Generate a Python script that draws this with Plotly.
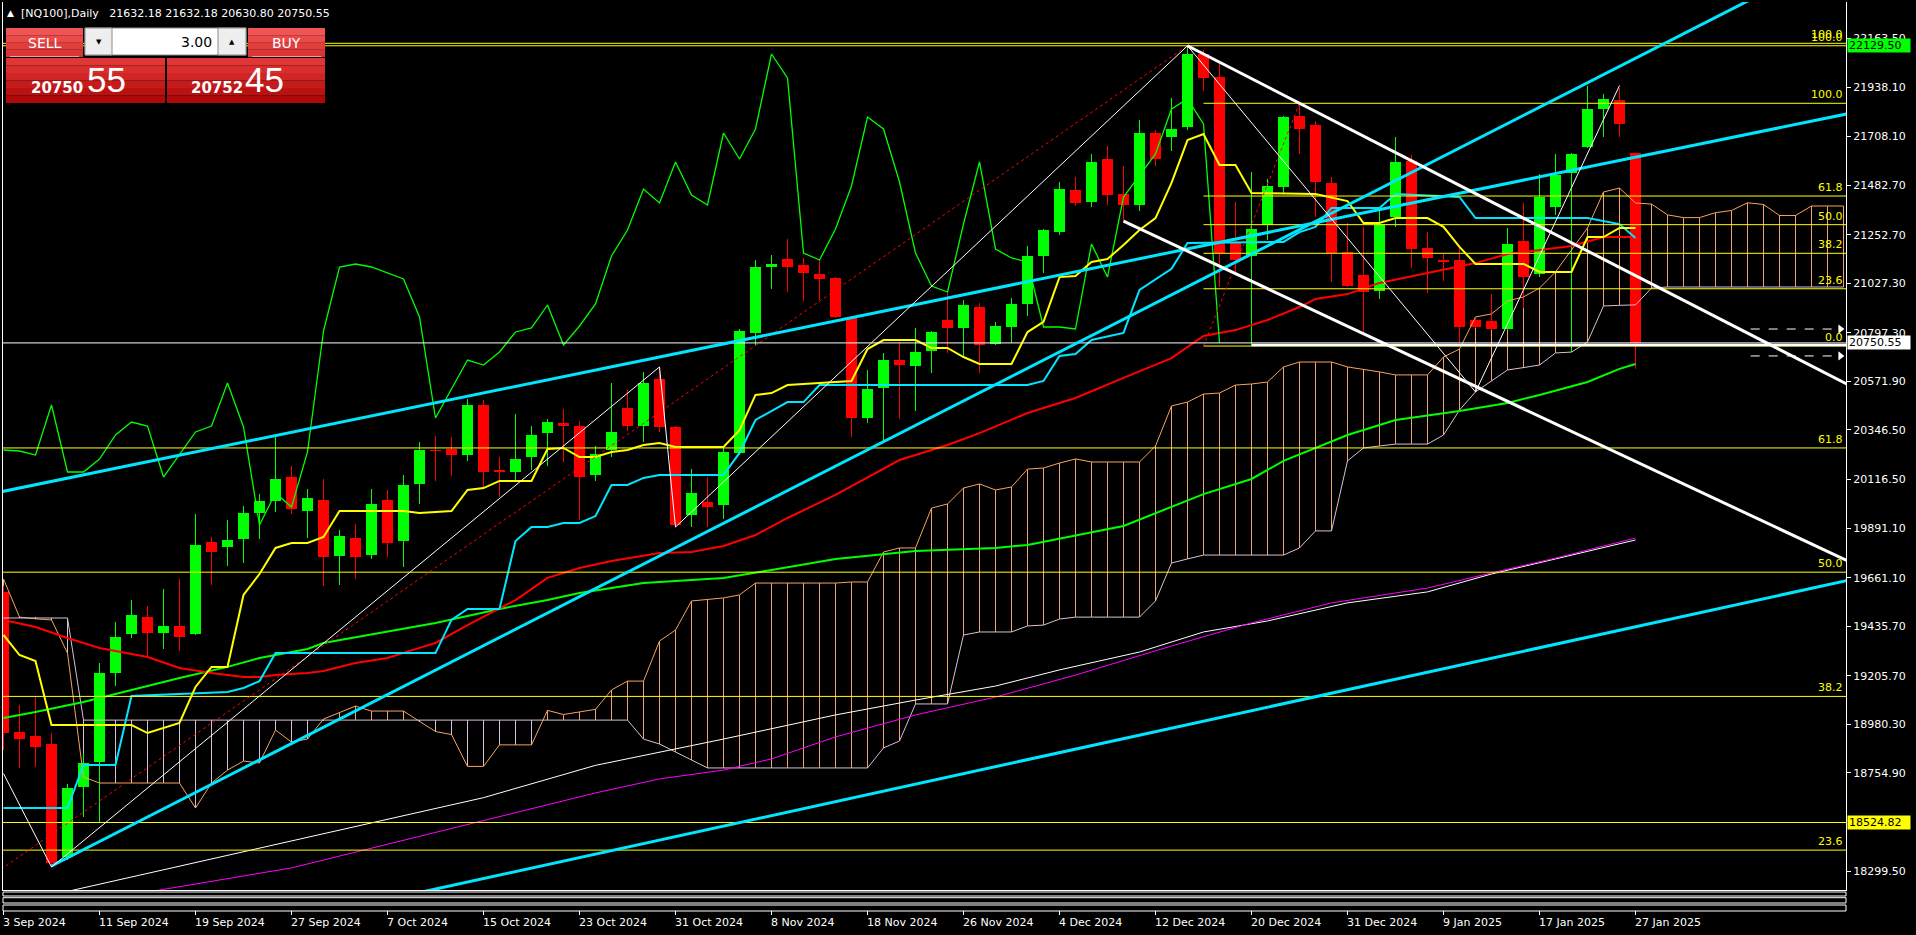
import plotly.graph_objects as go

# ======================= DATA =======================
tick_labels = ["3 Sep 2024", "11 Sep 2024", "19 Sep 2024", "27 Sep 2024", "7 Oct 2024",
               "15 Oct 2024", "23 Oct 2024", "31 Oct 2024", "8 Nov 2024", "18 Nov 2024",
               "26 Nov 2024", "4 Dec 2024", "12 Dec 2024", "20 Dec 2024", "31 Dec 2024",
               "9 Jan 2025", "17 Jan 2025", "27 Jan 2025"]
tick_bars = [0, 6, 12, 18, 24, 30, 36, 42, 48, 54, 60, 66, 72, 78, 84, 90, 96, 102]

open_ = [19594.5, 18944.8, 18926.2, 18889.1, 18364.7, 18689.5, 18805.6, 19218.6, 19399.6, 19478.5,
         19404.2, 19436.7, 19399.6, 19826.6, 19803.4, 19840.5, 19961.2, 20016.9, 20128.2, 19970.4,
         20021.5, 19761.6, 19845.1, 19766.2, 20021.5, 19831.2, 20095.8, 20253.5, 20258.2, 20230.3,
         20462.4, 20160.7, 20151.4, 20221.1, 20332.5, 20378.9, 20364.9, 20137.5, 20253.5, 20448.5,
         20364.9, 20583.1, 20360.3, 19951.9, 20012.2, 19998.3, 20239.6, 20796.5, 21102.9, 21140.0,
         21112.1, 21070.4, 21051.8, 20870.8, 20402.1, 20541.3, 20671.2, 20643.4, 20713.0, 20856.9,
         20819.8, 20917.2, 20745.5, 20824.4, 20931.1, 21153.9, 21265.3, 21460.2, 21404.5, 21604.1,
         21441.6, 21390.6, 21724.7, 21706.2, 21752.6, 22091.4, 21984.6, 21214.2, 21153.9, 21297.8,
         21474.1, 21803.6, 21761.9, 21492.7, 21172.5, 21065.7, 20991.5, 21334.9, 21594.8, 21191.0,
         21135.3, 21135.3, 20856.9, 20852.2, 20815.1, 21223.5, 21070.4, 21381.3, 21539.1, 21659.8,
         21836.1, 21877.9, 21632.18]
high_ = [19622.4, 19070.1, 19111.9, 18940.1, 18703.5, 18847.3, 19265.0, 19455.3, 19557.4, 19529.6,
         19608.5, 19654.9, 19956.5, 19849.8, 19928.7, 19993.7, 20049.3, 20313.9, 20179.3, 20072.6,
         20119.0, 19882.3, 19910.1, 20072.6, 20067.9, 20137.5, 20290.7, 20318.5, 20313.9, 20490.2,
         20485.6, 20221.1, 20420.6, 20364.9, 20397.4, 20443.8, 20388.1, 20272.1, 20564.5, 20532.0,
         20615.5, 20638.8, 20364.9, 20165.4, 20128.2, 20262.8, 20815.1, 21135.3, 21158.5, 21232.8,
         21144.6, 21140.0, 21056.4, 20875.4, 20624.8, 20703.7, 20754.8, 20819.8, 20805.8, 20986.8,
         20949.7, 20935.8, 20847.6, 20959.0, 21200.3, 21279.2, 21497.3, 21520.5, 21627.3, 21664.4,
         21571.6, 21785.1, 21738.7, 21887.2, 22129.5, 22110.0, 22049.6, 21404.5, 21543.7, 21511.3,
         21803.6, 21854.7, 21780.4, 21520.5, 21307.1, 21288.5, 21367.4, 21706.2, 21622.6, 21265.3,
         21163.2, 21195.7, 20870.8, 20977.5, 21283.9, 21399.9, 21534.5, 21627.3, 21631.9, 21942.9,
         21905.7, 21933.6, 21632.18]
low_ = [18861.2, 18777.7, 18782.4, 18318.3, 18350.7, 18550.3, 18527.1, 19158.3, 19381.0, 19292.9,
        19330.0, 19320.7, 19395.0, 19627.0, 19715.2, 19729.1, 19840.5, 19965.8, 19956.5, 19845.1,
        19622.4, 19627.0, 19654.9, 19747.7, 19757.0, 19710.6, 20002.9, 20109.7, 20132.9, 20202.5,
        20081.8, 20035.4, 20105.0, 20160.7, 20179.3, 20197.9, 19928.7, 20109.7, 20221.1, 20341.7,
        20290.7, 20337.1, 19896.2, 19896.2, 19896.2, 19933.3, 20230.3, 20740.9, 21000.8, 20986.8,
        20945.1, 20949.7, 20866.2, 20313.9, 20378.9, 20290.7, 20397.4, 20434.5, 20610.9, 20703.7,
        20685.2, 20610.9, 20740.9, 20750.1, 20875.4, 21075.0, 21251.4, 21386.0, 21381.3, 21390.6,
        21316.3, 21362.7, 21571.6, 21641.2, 21738.7, 21919.7, 21010.0, 21075.0, 20740.9, 21228.2,
        21446.3, 21627.3, 21334.9, 21033.2, 21010.0, 20801.2, 20954.3, 21288.5, 21098.2, 20982.2,
        21037.9, 20750.1, 20819.8, 20810.5, 20810.5, 20912.6, 21056.4, 21344.2, 20708.4, 21655.1,
        21706.2, 21706.2, 20630.80]
close_ = [18940.1, 18912.3, 18875.2, 18336.8, 18684.9, 18800.9, 19218.6, 19385.7, 19487.8, 19404.2,
          19436.7, 19385.7, 19812.7, 19780.2, 19835.9, 19961.2, 20016.9, 20119.0, 19979.7, 20030.8,
          19757.0, 19854.4, 19757.0, 20002.9, 19821.9, 20091.1, 20253.5, 20248.9, 20230.3, 20462.4,
          20151.4, 20151.4, 20211.8, 20323.2, 20383.5, 20364.9, 20128.2, 20235.0, 20337.1, 20364.9,
          20564.5, 20360.3, 19905.5, 20054.0, 19989.0, 20244.3, 20805.8, 21102.9, 21116.8, 21102.9,
          21075.0, 21047.2, 20870.8, 20402.1, 20536.7, 20671.2, 20648.0, 20708.4, 20801.2, 20819.8,
          20926.5, 20740.9, 20829.0, 20931.1, 21153.9, 21274.6, 21464.9, 21399.9, 21590.2, 21437.0,
          21390.6, 21724.7, 21604.1, 21743.3, 22091.4, 21980.0, 21167.8, 21135.3, 21279.2, 21478.8,
          21799.0, 21743.3, 21497.3, 21167.8, 21014.7, 20986.8, 21302.4, 21590.2, 21186.4, 21144.6,
          21126.1, 20824.4, 20824.4, 20815.1, 21209.6, 21056.4, 21427.7, 21529.8, 21627.3, 21836.1,
          21882.5, 21766.5, 20750.55]

# Ichimoku
tenkan_bar = [0, 1, 2, 3, 8, 9, 11, 12, 13, 14, 15, 16, 17, 18, 19, 20, 21, 25, 26, 28, 29, 30, 31, 33,
              34, 35, 36, 37, 38, 39, 40, 41, 42, 45, 46, 47, 48, 49, 51, 53, 54, 55, 57, 58, 59, 60,
              61, 63, 64, 65, 66, 67, 68, 69, 70, 71, 72, 73, 74, 75, 76, 77, 78, 82, 84, 85, 86, 87,
              89, 90, 91, 92, 95, 96, 98, 99, 100, 101, 102]
tenkan_val = [19395, 19302, 19274, 18977, 18977, 18940, 18987, 19154, 19247, 19247, 19581, 19678, 19799,
              19822, 19822, 19850, 19970, 19970, 19961, 19970, 20068, 20077, 20110, 20110, 20258, 20263,
              20221, 20221, 20244, 20254, 20277, 20286, 20268, 20268, 20346, 20509, 20518, 20555, 20565,
              20574, 20722, 20764, 20764, 20727, 20727, 20685, 20653, 20653, 20801, 20848, 21056, 21061,
              21126, 21140, 21205, 21275, 21330, 21493, 21692, 21720, 21576, 21576, 21446, 21442, 21409,
              21307, 21307, 21330, 21330, 21289, 21196, 21117, 21117, 21080, 21080, 21242, 21242, 21284,
              21284]
kijun_bar = [0, 4, 5, 7, 8, 14, 15, 16, 17, 27, 28, 29, 31, 32, 33, 34, 35, 36, 37, 38, 39, 40, 41, 45,
             46, 47, 49, 50, 51, 64, 65, 66, 67, 68, 70, 71, 73, 74, 80, 81, 82, 83, 86, 87, 91, 92, 99,
             100, 101, 102]
kijun_val = [18592, 18592, 18792, 18792, 19112, 19130, 19149, 19181, 19311, 19311, 19465, 19516, 19516,
             19831, 19896, 19896, 19915, 19915, 19947, 20091, 20091, 20124, 20137, 20137, 20240, 20393,
             20476, 20476, 20555, 20555, 20574, 20690, 20699, 20764, 20797, 20996, 21094, 21214, 21219,
             21265, 21289, 21377, 21377, 21442, 21428, 21330, 21330, 21316, 21302, 21237]
span_a = [19655, 19478, 19470, 19465, 19311, 18736, 18708, 18708, 18708, 18708,
          18708, 18708, 18592, 18708, 18768, 18810, 18801, 18954, 18898, 18912,
          19005, 19035, 19065, 19042, 19042, 19042, 18994, 18947, 18933, 18785,
          18785, 18885, 18885, 18885, 19045, 19026, 19038, 19050, 19140, 19181,
          19181, 19367, 19418, 19553, 19560, 19567, 19581, 19636, 19636, 19636,
          19636, 19636, 19636, 19641, 19641, 19780, 19799, 19799, 19984, 20003,
          20077, 20096, 20068, 20082, 20165, 20170, 20193, 20212, 20198, 20198,
          20198, 20198, 20272, 20458, 20476, 20513, 20518, 20555, 20560, 20569,
          20639, 20662, 20662, 20662, 20639, 20628, 20616, 20602, 20602, 20602,
          20685, 20722, 20871, 20885, 20945, 20964, 21005, 21080, 21182, 21284,
          21451, 21469, 21400, 21395, 21345, 21332, 21332, 21355, 21365, 21401,
          21393, 21342, 21342, 21386, 21386, 21386]
span_b = [19474, 19474, 19474, 19474, 19474, 19000, 19000, 19000, 19000, 19000,
          19000, 19000, 19000, 19000, 19000, 19000, 19000, 19000, 19000, 19000,
          19000, 19000, 19000, 19000, 19000, 19000, 19000, 19000, 19000, 19000,
          19000, 19000, 19000, 19000, 19000, 19000, 19000, 19000, 19000, 19000,
          18912, 18889, 18852, 18815, 18778, 18778, 18778, 18778, 18778, 18778,
          18778, 18778, 18778, 18778, 18778, 18871, 18903, 19075, 19075, 19075,
          19395, 19409, 19409, 19409, 19437, 19441, 19469, 19478, 19478, 19478,
          19478, 19478, 19553, 19729, 19748, 19766, 19766, 19766, 19766, 19766,
          19766, 19799, 19878, 19878, 20203, 20263, 20272, 20281, 20281, 20281,
          20323, 20439, 20523, 20574, 20625, 20636, 20648, 20704, 20708, 20755,
          20922, 20925, 20927, 21005, 21010, 21010, 21010, 21010, 21010, 21010,
          21010, 21010, 21010, 21010, 21010, 21010]
chikou_shift = 26

# Moving averages
ma_red_bar = [0, 2, 4, 6, 9, 11, 13, 15, 16, 17, 19, 20, 22, 24, 26, 27, 29, 31, 32, 34, 36, 38, 41, 43,
              45, 47, 49, 52, 56, 59, 61, 64, 67, 70, 73, 75, 77, 79, 81, 82, 84, 86, 89, 91, 92, 94, 96,
              98, 100, 102]
ma_red_val = [19465, 19432, 19381, 19335, 19293, 19242, 19219, 19200, 19200, 19209, 19219, 19228, 19265,
              19288, 19335, 19358, 19441, 19516, 19557, 19660, 19706, 19738, 19776, 19780, 19808, 19859,
              19938, 20045, 20207, 20277, 20332, 20425, 20495, 20588, 20680, 20783, 20810, 20857, 20917,
              20954, 20977, 21029, 21075, 21103, 21121, 21163, 21182, 21200, 21242, 21242]
ma_green_bar = [0, 2, 5, 8, 11, 14, 16, 19, 20, 27, 31, 34, 36, 40, 45, 48, 52, 57, 62, 64, 68, 70, 75,
                78, 80, 84, 87, 91, 94, 96, 99, 101, 102]
ma_green_val = [19010, 19038, 19084, 19140, 19195, 19247, 19288, 19330, 19358, 19451, 19516, 19557, 19590,
                19636, 19660, 19697, 19748, 19785, 19799, 19813, 19873, 19901, 20049, 20119, 20203, 20323,
                20393, 20435, 20472, 20509, 20569, 20630, 20653]
ma_white_bar = [4, 18, 30, 37, 45, 52, 57, 62, 66, 71, 75, 79, 84, 89, 93, 97, 100, 102]
ma_white_val = [18205, 18440, 18640, 18790, 18912, 19024, 19093, 19158, 19233, 19316, 19409, 19460, 19544,
                19595, 19678, 19748, 19799, 19836]
ma_magenta_bar = [9, 18, 37, 41, 45, 48, 52, 57, 62, 67, 73, 78, 83, 89, 93, 97, 100, 102]
ma_magenta_val = [18202, 18314, 18662, 18727, 18768, 18820, 18922, 19024, 19107, 19209, 19344, 19451,
                  19544, 19613, 19683, 19752, 19808, 19845]

# Drawn objects: anchors as (bar index, price)
cyan_line_upper = [(0, 20062), (100, 21582)]       # extended both ways
cyan_ray_steep = [(3, 18323), (100, 21996)]        # ray to the right
cyan_line_lower = [(40, 18427), (110, 19563)]      # extended both ways
white_ray_upper = [(74, 22129.5), (100, 21139)]    # ray
white_ray_lower = [(70, 21316), (110, 19922)]      # ray
zigzag_bar = [0, 3, 41, 42, 74, 92, 101]
zigzag_val = [18752, 18318, 20639, 19896, 22129.5, 20523, 21945]
fib_big = {"start": -20.8, "low": 17243.5, "high": 22129.5}
fib_big_levels = [1.0, 0.618, 0.5, 0.382, 0.236]
fib_big_texts = ["100.0", "61.8", "50.0", "38.2", "23.6"]
fib_small = {"start": 75, "end": 81, "low": 20736, "high": 21862.6}
fib_small_levels = [1.0, 0.618, 0.5, 0.382, 0.236, 0.0]
fib_small_texts = ["100.0", "61.8", "50.0", "38.2", "23.6", "0.0"]
hline_top2 = 22141
hline_yellow = 18524.82
bid_price = 20750.55
support_start, support_price = 78, 20741
arrow_start = 109.2
arrow_prices = [20815, 20690]

ytick_vals = [22163.5, 21938.1, 21708.1, 21482.7, 21252.7, 21027.3, 20797.3, 20571.9, 20346.5,
              20116.5, 19891.1, 19661.1, 19435.7, 19205.7, 18980.3, 18754.9, 18299.5]
ytick_text = ["%.2f" % v for v in ytick_vals]

header = "[NQ100],Daily\u00a0\u00a0 21632.18 21632.18 20630.80 20750.55"

# ======================= GEOMETRY / STYLE =======================
W, H = 1916, 935
ML, MR, MT, MB = 3, 70, 2, 45
PW, PH = W - ML - MR, H - MT - MB
BARPX = 16
XMIN = -0.03125
XMAX = XMIN + PW / BARPX
YMAX, YMIN = 22332.7, 18211.5

def pxx(px):
    return (px - ML) / PW

def pxy(py):
    return (H - MB - py) / PH

def bar_px(b):
    return ML + (b - XMIN) * BARPX

BULL, BEAR = "#00FF00", "#FF0000"
SANDY, THISTLE = "#F4A460", "#D8BFD8"
CYAN = "#00E6FF"
YEL = "#FFFF00"
FONT = "DejaVu Sans"

n = len(close_)
idx = list(range(n))
fig = go.Figure()

# ---- cloud hatch (drawn first, under candles)
nc = len(span_a)
fig.add_trace(go.Bar(
    x=list(range(nc)),
    base=[min(a, b) for a, b in zip(span_a, span_b)],
    y=[max(abs(a - b), 0.5) for a, b in zip(span_a, span_b)],
    width=1.0 / BARPX,
    marker=dict(color=[SANDY if a >= b else THISTLE for a, b in zip(span_a, span_b)], line=dict(width=0)),
))

# ---- candle bodies
fig.add_trace(go.Bar(
    x=idx,
    base=[min(o, c) for o, c in zip(open_, close_)],
    y=[max(abs(c - o), 4.0) for o, c in zip(open_, close_)],
    width=11.0 / BARPX,
    marker=dict(color=[BULL if c >= o else BEAR for o, c in zip(open_, close_)], line=dict(width=0)),
))

# ---- wicks
for col, cond in ((BULL, lambda o, c: c >= o), (BEAR, lambda o, c: c < o)):
    xs, ys = [], []
    for i in idx:
        if cond(open_[i], close_[i]):
            xs += [i, i, None]
            ys += [low_[i], high_[i], None]
    fig.add_trace(go.Scatter(x=xs, y=ys, mode="lines", line=dict(color=col, width=1)))

def add_line(x, y, color, width=1, dash=None):
    fig.add_trace(go.Scatter(x=x, y=y, mode="lines",
                             line=dict(color=color, width=width, dash=dash)))

# cloud edges
add_line(list(range(nc)), span_a, SANDY, 1)
add_line(list(range(nc)), span_b, THISTLE, 1)
# MAs
add_line(ma_white_bar, ma_white_val, "#FFFFFF", 1)
add_line(ma_magenta_bar, ma_magenta_val, "#FF00FF", 1)
add_line(ma_green_bar, ma_green_val, BULL, 2)
add_line(ma_red_bar, ma_red_val, BEAR, 2)
# chikou
add_line(idx[:n - chikou_shift], close_[chikou_shift:], BULL, 1.3)
# kijun / tenkan
add_line(kijun_bar, kijun_val, CYAN, 2)
add_line(tenkan_bar, tenkan_val, YEL, 2)

# ---- fib levels
rng = fib_big["high"] - fib_big["low"]
big_prices = [fib_big["low"] + lv * rng for lv in fib_big_levels]
for p in big_prices + [hline_top2, hline_yellow]:
    add_line([XMIN - 1, XMAX + 1], [p, p], YEL, 1)
rng2 = fib_small["high"] - fib_small["low"]
small_prices = [fib_small["low"] + lv * rng2 for lv in fib_small_levels]
for p in small_prices:
    add_line([fib_small["start"], XMAX + 1], [p, p], YEL, 1)
add_line([fib_big["start"], 74], [fib_big["low"], fib_big["high"]], BEAR, 1, "dot")
add_line([fib_small["start"], fib_small["end"]], [fib_small["low"], fib_small["high"]], BEAR, 1, "dot")

# ---- bid line and support
add_line([XMIN - 1, XMAX + 1], [bid_price, bid_price], "#FFFFFF", 1)
add_line([support_start, XMAX + 1], [support_price, support_price], "#FFFFFF", 2.5)

# ---- trend lines
def through(p1, p2, x_from, x_to):
    (x1, y1), (x2, y2) = p1, p2
    k = (y2 - y1) / (x2 - x1)
    return [x_from, x_to], [y1 + k * (x_from - x1), y1 + k * (x_to - x1)]

for anchors, ray, col in ((cyan_line_upper, False, CYAN), (cyan_ray_steep, True, CYAN),
                          (cyan_line_lower, False, CYAN), (white_ray_upper, True, "#FFFFFF"),
                          (white_ray_lower, True, "#FFFFFF")):
    x0 = anchors[0][0] if ray else XMIN - 5
    xs, ys = through(anchors[0], anchors[1], x0, XMAX + 5)
    add_line(xs, ys, col, 3)
add_line(zigzag_bar, zigzag_val, "#FFFFFF", 1)

# ---- dashed arrows
for p in arrow_prices:
    add_line([arrow_start, XMAX - 0.35], [p, p], "#FFFFFF", 1, "dash")
    fig.add_trace(go.Scatter(x=[XMAX - 0.35], y=[p], mode="markers",
                             marker=dict(symbol="triangle-right", size=8, color="#FFFFFF")))

# ======================= LAYOUT =======================
shapes = []
for top, bot in ((892, 896), (897.7, 903), (905, 911)):
    shapes.append(dict(type="rect", xref="paper", yref="paper", x0=0, x1=1,
                       y0=pxy(bot), y1=pxy(top), line=dict(color="#FFFFFF", width=1)))
for b in tick_bars:
    xp = pxx(bar_px(b))
    shapes.append(dict(type="line", xref="paper", yref="paper", x0=xp, x1=xp,
                       y0=pxy(911), y1=pxy(915), line=dict(color="#FFFFFF", width=1)))

def prect(x0, y0, x1, y1, fill, line=None, lw=1):
    shapes.append(dict(type="rect", xref="paper", yref="paper", x0=pxx(x0), x1=pxx(x1),
                       y0=pxy(y1), y1=pxy(y0), fillcolor=fill, layer="above",
                       line=dict(color=line or fill, width=lw if line else 0)))

# trade panel
for bx0, bx1 in ((6, 83), (248, 325)):
    for k, c in enumerate(["#f05555", "#ea4a4a", "#e23e3e", "#da3535"]):
        prect(bx0, 28 + k * 7.25, bx1, 28 + (k + 1) * 7.25, c)
    shapes.append(dict(type="line", xref="paper", yref="paper", x0=pxx(bx0 + 4), x1=pxx(bx1 - 4),
                       y0=pxy(56.5), y1=pxy(56.5), layer="above", line=dict(color="#ff9a9a", width=1)))
prect(85, 28, 246, 55, "#FFFFFF", "#8c8c8c")
prect(85, 28, 112, 55, "#eeeeee", "#8c8c8c")
prect(218, 28, 246, 55, "#eeeeee", "#8c8c8c")
for bx0, bx1 in ((6, 165), (167, 325)):
    cols = ["#e03636", "#d82e2e", "#cf2525", "#c51b1b", "#ba1111", "#ae0808"]
    for k, c in enumerate(cols):
        prect(bx0, 58 + k * 7.5, bx1, 58 + (k + 1) * 7.5, c)

ann = []
def ptext(x, y, text, size=11, color="#FFFFFF", xanchor="left", family=FONT, yanchor="middle"):
    ann.append(dict(xref="paper", yref="paper", x=pxx(x), y=pxy(y), text=text, showarrow=False,
                    xanchor=xanchor, yanchor=yanchor, font=dict(family=family, size=size, color=color)))

ptext(5, 13, "\u25b2", 9)
ptext(19, 13, header, 11)
ptext(44.5, 43, "SELL", 14, xanchor="center")
ptext(286.5, 43, "BUY", 14, xanchor="center")
ptext(214, 42, "3.00", 14, "#000000", xanchor="right")
ptext(98.5, 42, "\u25bc", 7, "#000000", xanchor="center")
ptext(232, 42, "\u25b2", 7, "#000000", xanchor="center")
ptext(29, 88, "<b>20750</b>", 15)
ptext(85, 80, "55", 35, family="Liberation Sans")
ptext(189, 88, "<b>20752</b>", 15)
ptext(243, 80, "45", 35, family="Liberation Sans")

# date labels, left-aligned at their tick marks
for b, t in zip(tick_bars, tick_labels):
    ptext(bar_px(b) - 2.5, 923, t, 11)

def flabel(p, t, dy=0):
    ann.append(dict(xref="paper", yref="y", x=pxx(1845), y=p, text=t, showarrow=False, yshift=dy,
                    xanchor="right", yanchor="bottom", font=dict(family=FONT, size=11, color=YEL)))

for p, t in zip(big_prices, fib_big_texts):
    flabel(p, t)
flabel(hline_top2, "100.0")
for p, t in zip(small_prices, fib_small_texts):
    flabel(p, t)

for p, t, bg in ((22129.5, "22129.50", "#00FF00"), (bid_price, "20750.55", "#FFFFFF"),
                 (hline_yellow, "18524.82", "#FFFF00")):
    ann.append(dict(xref="paper", yref="y", x=pxx(1847), y=p, text=t, showarrow=False,
                    xanchor="left", yanchor="middle", bgcolor=bg, width=60, height=11, borderpad=1,
                    align="left", font=dict(family=FONT, size=11, color="#000000")))

fig.update_layout(
    template="none",
    width=W, height=H, margin=dict(l=ML, r=MR, t=MT, b=MB, pad=0, autoexpand=False),
    paper_bgcolor="#000000", plot_bgcolor="#000000",
    barmode="overlay", bargap=0, showlegend=False, hovermode=False,
    font=dict(family=FONT, size=11, color="#FFFFFF"),
    xaxis=dict(range=[XMIN, XMAX], showgrid=False, zeroline=False, showticklabels=False, ticks="",
               showline=True, linecolor="#FFFFFF", linewidth=1, fixedrange=True, automargin=False),
    yaxis=dict(range=[YMIN, YMAX], side="right", showgrid=False, zeroline=False,
               tickmode="array", tickvals=ytick_vals, ticktext=ytick_text,
               ticks="outside", ticklen=4, tickcolor="#FFFFFF",
               tickfont=dict(family=FONT, size=11, color="#FFFFFF"),
               showline=True, linecolor="#FFFFFF", linewidth=1, mirror=True, fixedrange=True,
               automargin=False),
    shapes=shapes, annotations=ann,
)

fig.write_html("out.html", config={"displayModeBar": False})
# remove the browser's default page margin so the figure sits at the window's corner
with open("out.html", encoding="utf-8") as fh:
    page = fh.read()
page = page.replace("<body>", '<body style="margin:0;padding:0;background:#000000;overflow:hidden">', 1)
with open("out.html", "w", encoding="utf-8") as fh:
    fh.write(page)
